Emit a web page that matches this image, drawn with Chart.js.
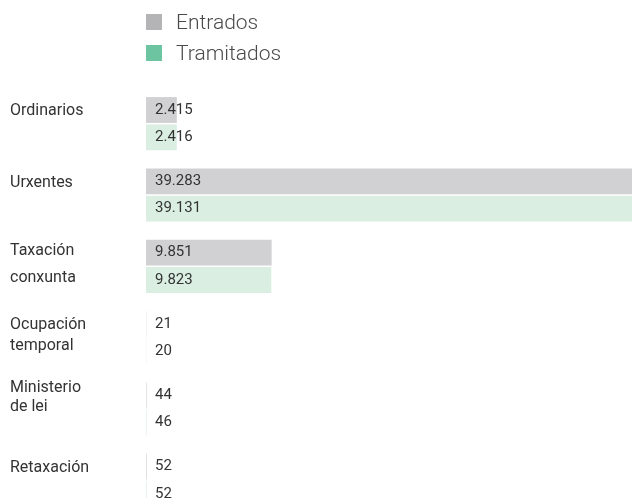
<!DOCTYPE html>
<html lang="gl">
<head>
<meta charset="utf-8">
<title>Expedientes entrados e tramitados</title>
<script src="https://cdn.jsdelivr.net/npm/chart.js@4/dist/chart.umd.min.js"></script>
<style>
    html, body {
        margin: 0;
        padding: 0;
        background: #fff;
        overflow: hidden;
    }
    #wrap {
        position: relative;
        width: 632px;
        height: 540px;
    }
    #legend {
        position: absolute;
        left: 146px;
        top: 6px;
        margin: 0;
        padding: 0;
        list-style: none;
        font-family: Roboto, sans-serif;
        font-weight: 300;
        font-size: 21px;
        color: #4a4a4a;
    }
    #legend li {
        display: flex;
        align-items: center;
        height: 31px;
    }
    #legend .box {
        display: inline-block;
        width: 16px;
        height: 16px;
        margin-right: 14px;
    }
</style>
</head>
<body>
<div id="wrap">
    <ul id="legend"></ul>
    <canvas id="chart"></canvas>
</div>
<script>
document.addEventListener("DOMContentLoaded", function () {
    // trailing "" lines keep each label's first line level with the grey bar
    const categories = [
        ["Ordinarios", ""],
        ["Urxentes", ""],
        ["Taxación", "conxunta"],
        ["Ocupación", "temporal"],
        ["Ministerio", "de lei", ""],
        ["Retaxación", ""]
    ];
    const entrados = [2415, 39283, 9851, 21, 44, 52];
    const tramitados = [2416, 39131, 9823, 20, 46, 52];

    const seriesNames = ["Entrados", "Tramitados"];
    const barColors = ["#d1d1d3", "#daeee2"];
    const keyColors = ["#b4b4b6", "#6cc5a0"];
    const labelLineHeights = [21, 21, 27, 21.5, 19.5, 21];

    // 2415 -> "2.415"
    const formatNumber = (n) => String(n).replace(/\B(?=(\d{3})+(?!\d))/g, ".");

    // value written just inside the start of each bar
    const valueLabels = {
        id: "valueLabels",
        afterDatasetsDraw(chart) {
            const ctx = chart.ctx;
            ctx.save();
            ctx.font = "15px Roboto, sans-serif";
            ctx.fillStyle = "#333";
            ctx.textAlign = "left";
            ctx.textBaseline = "middle";
            chart.data.datasets.forEach((ds, i) => {
                chart.getDatasetMeta(i).data.forEach((bar, j) => {
                    ctx.fillText(formatNumber(ds.data[j]), bar.base + 9, bar.y);
                });
            });
            ctx.restore();
        }
    };

    // stacked legend above the chart
    const htmlLegend = {
        id: "htmlLegend",
        afterUpdate(chart) {
            const list = document.getElementById("legend");
            list.innerHTML = "";
            chart.data.datasets.forEach((ds) => {
                const li = document.createElement("li");
                const box = document.createElement("span");
                box.className = "box";
                box.style.background = ds.keyColor;
                li.appendChild(box);
                li.appendChild(document.createTextNode(ds.label));
                list.appendChild(li);
            });
        }
    };

    new Chart(document.getElementById("chart").getContext("2d"), {
        type: "bar",
        data: {
            labels: categories,
            datasets: [
                { label: seriesNames[0], data: entrados, backgroundColor: barColors[0], keyColor: keyColors[0] },
                { label: seriesNames[1], data: tramitados, backgroundColor: barColors[1], keyColor: keyColors[1] }
            ]
        },
        options: {
            indexAxis: "y",
            responsive: true,
            maintainAspectRatio: false,
            animation: false,
            layout: { padding: { top: 88, bottom: 0, left: 10, right: 0 } },
            datasets: {
                bar: { categoryPercentage: 0.766, barPercentage: 0.945, inflateAmount: 0 }
            },
            scales: {
                x: {
                    display: false,
                    min: 0,
                    max: 38100
                },
                y: {
                    grid: { display: false },
                    border: { display: false },
                    afterFit(scale) { scale.width = 136; },
                    ticks: {
                        crossAlign: "far",
                        labelOffset: -2,
                        color: "#333",
                        font: (ctx) => ({
                            family: "Roboto, sans-serif",
                            size: 16,
                            lineHeight: labelLineHeights[ctx.index] + "px"
                        })
                    }
                }
            },
            plugins: {
                legend: { display: false },
                tooltip: { enabled: false }
            }
        },
        plugins: [valueLabels, htmlLegend]
    });
});
</script>
</body>
</html>
